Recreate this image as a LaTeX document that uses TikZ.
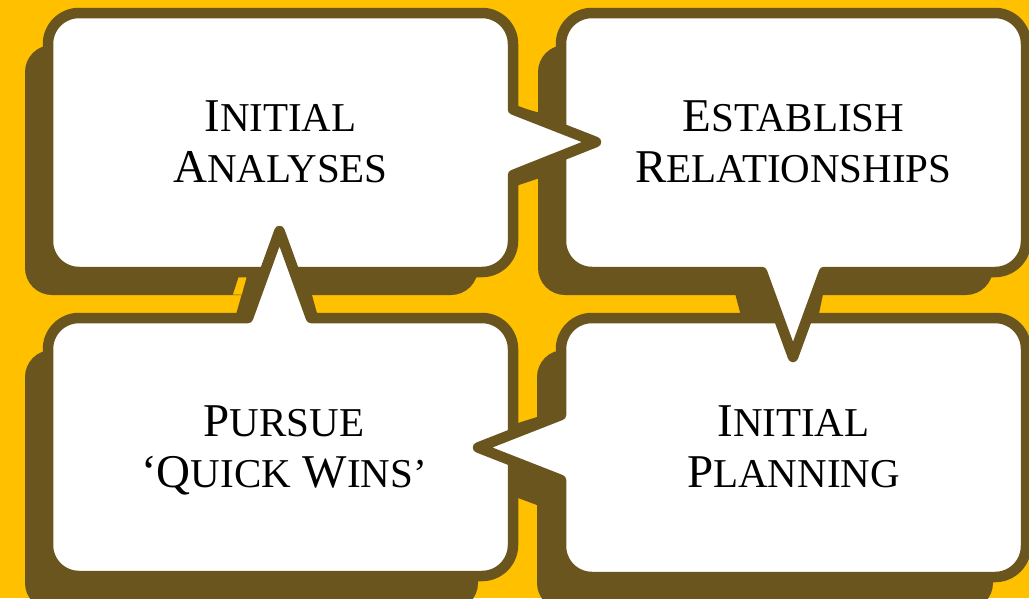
\documentclass[tikz,border=0pt]{standalone}
\usepackage{fontspec}
\setmainfont{Liberation Serif}
\usepackage{tikz}
\definecolor{gold}{RGB}{255,192,0}
\definecolor{mud}{RGB}{106,85,31}
\newcommand{\capsword}[2]{{\fontsize{47}{51}\selectfont #1}{\fontsize{41}{51}\selectfont #2}}

\begin{document}
\begin{tikzpicture}[x=1pt, y=-1pt,
  bubble/.style={fill=white, draw=mud, line width=10.5pt, line join=round},
  shade/.style={fill=mud, rounded corners=27pt},
  bubbletext/.style={align=center, text=black, font=\fontsize{47}{51}\selectfont}]

\clip (0,0) rectangle (1029,598);
\fill[gold] (0,0) rectangle (1029,598);

% shadows
\fill[shade] (25,45) rectangle (478,295);
\fill[shade] (538,45) rectangle (993,295);
\fill[shade] (25,350) rectangle (478,610);
\fill[shade] (537,350) rectangle (993,610);
\fill[mud] (500,101.7) -- (560,118.5) -- (560,171.3) -- (500,191.3) -- cycle;
\fill[mud] (726.8,262) -- (829.8,262) -- (815.5,330) -- (744.7,330) -- cycle;
\fill[mud] (254.4,250) -- (299.4,250) -- (321.7,330) -- (231.6,330) -- cycle;
\fill[mud] (500,428.7) -- (560,409.7) -- (560,513.5) -- (500,491.4) -- cycle;
\fill[gold] (239,276) -- (246.9,276) -- (241.8,294.5) -- (233,294.5) -- cycle;

% bubbles
\path[bubble] (79,13) -- (482,13) arc[start angle=-90, end angle=0, radius=31]
  -- (513,109.5) -- (596,142) -- (513,175)
  -- (513,241) arc[start angle=0, end angle=90, radius=31]
  -- (79,272) arc[start angle=90, end angle=180, radius=31]
  -- (48,44) arc[start angle=180, end angle=270, radius=31] -- cycle;
\path[bubble] (79,318) -- (248,318) -- (279.5,231) -- (311,318)
  -- (482,318) arc[start angle=-90, end angle=0, radius=31]
  -- (513,545) arc[start angle=0, end angle=90, radius=31]
  -- (79,576) arc[start angle=90, end angle=180, radius=31]
  -- (48,349) arc[start angle=180, end angle=270, radius=31] -- cycle;
\path[bubble] (592,318) -- (995,318) arc[start angle=-90, end angle=0, radius=31]
  -- (1026,546) arc[start angle=0, end angle=90, radius=31]
  -- (592,577) arc[start angle=90, end angle=180, radius=31]
  -- (561,480) -- (478,447.5) -- (561,415)
  -- (561,349) arc[start angle=180, end angle=270, radius=31] -- cycle;
\path[bubble] (592,13) -- (995,13) arc[start angle=-90, end angle=0, radius=31]
  -- (1026,241) arc[start angle=0, end angle=90, radius=31]
  -- (824,272) -- (793,357) -- (762,272)
  -- (592,272) arc[start angle=90, end angle=180, radius=31]
  -- (561,44) arc[start angle=180, end angle=270, radius=31] -- cycle;

% first tail again, over the second bubble
\begin{scope}
  \clip (540,0) rectangle (700,300);
  \path[bubble] (513,109.5) -- (596,142) -- (513,175) -- cycle;
\end{scope}

% texts
\node[bubbletext] (initan) at (280.5,142) {\capsword{I}{NITIAL}\\\capsword{A}{NALYSES}};
\node[bubbletext] (estrel) at (793.5,142) {\capsword{E}{STABLISH}\\\capsword{R}{ELATIONSHIPS}};
\node[bubbletext] (pursue) at (284,450) {\capsword{P}{URSUE}\\\capsword{‘Q}{UICK} \capsword{W}{INS’}};
\node[bubbletext] (initpl) at (793.5,447) {\capsword{I}{NITIAL}\\\capsword{P}{LANNING}};

\end{tikzpicture}
\end{document}
